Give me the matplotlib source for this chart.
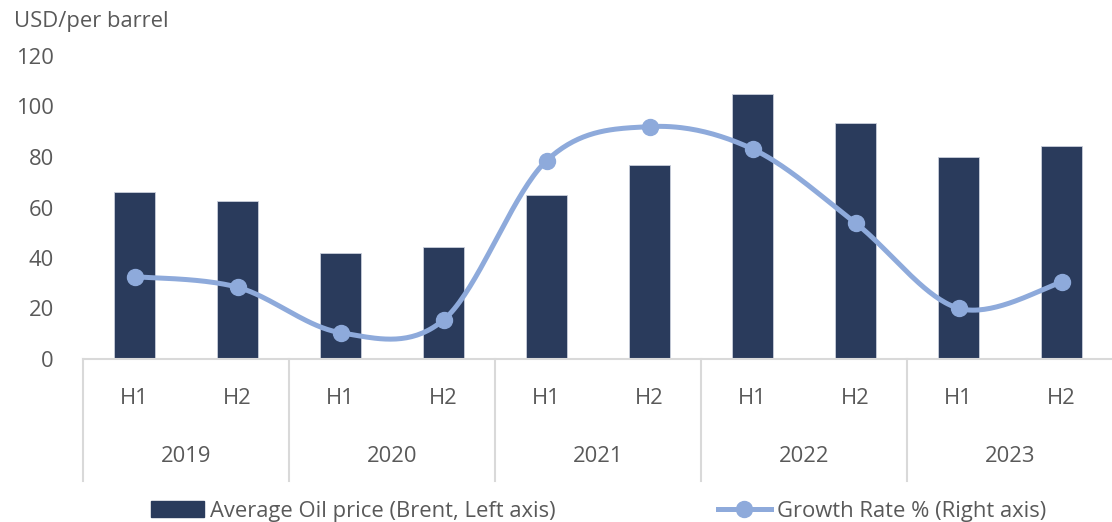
import numpy as np
import matplotlib
matplotlib.use("Agg")
import matplotlib.pyplot as plt
from matplotlib.patches import Patch
from matplotlib.lines import Line2D

plt.rcParams['font.family'] = ['Open Sans', 'DejaVu Sans']

years = ["2019", "2020", "2021", "2022", "2023"]
halves = ["H1", "H2"]
oil_price = [66.0, 62.7, 42.1, 44.4, 65.1, 76.7, 104.8, 93.5, 80.1, 84.5]
growth_rate = [-6.5, -12.1, -36.1, -29.4, 54.7, 72.7, 60.9, 21.8, -23.2, -9.5]

bar_color = "#2a3b5c"
line_color = "#8eaadb"
text_color = "#595959"
grid_color = "#d9d9d9"
fs = 15.8


def smooth_curve(xs, ys, n=40):
    """Cubic Bezier smoothing through every point (Catmull-Rom style)."""
    xs = np.asarray(xs, float)
    ys = np.asarray(ys, float)
    pts = np.column_stack([xs, ys])
    out = []
    m = len(pts)
    for i in range(m - 1):
        p0 = pts[i - 1] if i > 0 else pts[i]
        p1 = pts[i]
        p2 = pts[i + 1]
        p3 = pts[i + 2] if i + 2 < m else pts[i + 1]
        c1 = p1 + (p2 - p0) / 6.0
        c2 = p2 - (p3 - p1) / 6.0
        t = np.linspace(0, 1, n)[:, None]
        seg = ((1 - t) ** 3) * p1 + 3 * ((1 - t) ** 2) * t * c1 + 3 * (1 - t) * t ** 2 * c2 + t ** 3 * p2
        out.append(seg if i == 0 else seg[1:])
    seg = np.vstack(out)
    return seg[:, 0], seg[:, 1]


fig = plt.figure(figsize=(11.12, 5.22), dpi=100)
W, H = 1112, 522
left, right, bottom, top = 83, 1113, 359, 56
ax = fig.add_axes([left / W, 1 - bottom / H, (right - left) / W, (bottom - top) / H])

x = np.arange(len(oil_price))
ax.bar(x, oil_price, width=0.4, color=bar_color, edgecolor="#c9cfdb", linewidth=0.6, zorder=2)
ax.set_xlim(-0.5, len(oil_price) - 0.5)
ax.set_ylim(0, 120)
ax.set_yticks(np.arange(0, 121, 20))
# pad in points: ~29 px between labels and plot edge
ax.tick_params(axis="y", length=0, pad=21, labelsize=fs, labelcolor=text_color)
ax.set_xticks([])
for s in ["top", "right", "left"]:
    ax.spines[s].set_visible(False)
ax.spines["bottom"].set_color(grid_color)
ax.spines["bottom"].set_linewidth(1.5)

# Two-level category axis
trans = ax.get_xaxis_transform()
sep_depth = -(481 - bottom) / (bottom - top)
for k in range(len(years) + 1):
    xb = -0.5 + 2 * k
    ax.plot([xb, xb], [0, sep_depth], transform=trans, color=grid_color, lw=1.5, clip_on=False)
for i in range(len(oil_price)):
    ax.text(i, -(398 - bottom) / (bottom - top), halves[i % 2], transform=trans,
            ha="center", va="center", fontsize=fs, color=text_color)
for k, yr in enumerate(years):
    ax.text(2 * k + 0.5, -(456 - bottom) / (bottom - top), yr, transform=trans,
            ha="center", va="center", fontsize=fs, color=text_color)

# Growth rate on a hidden secondary axis
ax2 = ax.twinx()
ax2.set_ylim(-50, 110)
ax2.axis("off")
sx, sy = smooth_curve(x, growth_rate)
ax2.plot(sx, sy, color=line_color, lw=3.6, solid_capstyle="round", zorder=3)
ax2.plot(x, growth_rate, "o", color=line_color, markersize=11.5, zorder=4)

fig.text(14 / W, 1 - 21 / H, "USD/per barrel", ha="left", va="center", fontsize=fs, color=text_color)

# Legend
h1 = Patch(facecolor=bar_color, edgecolor=bar_color)
h2 = Line2D([0], [0], color=line_color, lw=3.6, marker="o", markersize=11.5)
kw = dict(loc="center left", frameon=False, fontsize=fs, borderpad=0, borderaxespad=0,
          handlelength=2.4, handletextpad=0.27, labelcolor=text_color)
leg1 = fig.legend([h1], ["Average Oil price (Brent, Left axis)"],
                  bbox_to_anchor=(151 / W, 1 - 511 / H), **kw)
leg2 = fig.legend([h2], ["Growth Rate % (Right axis)"],
                  bbox_to_anchor=(718 / W, 1 - 511 / H), **kw)

fig.savefig("out.png", dpi=100)
